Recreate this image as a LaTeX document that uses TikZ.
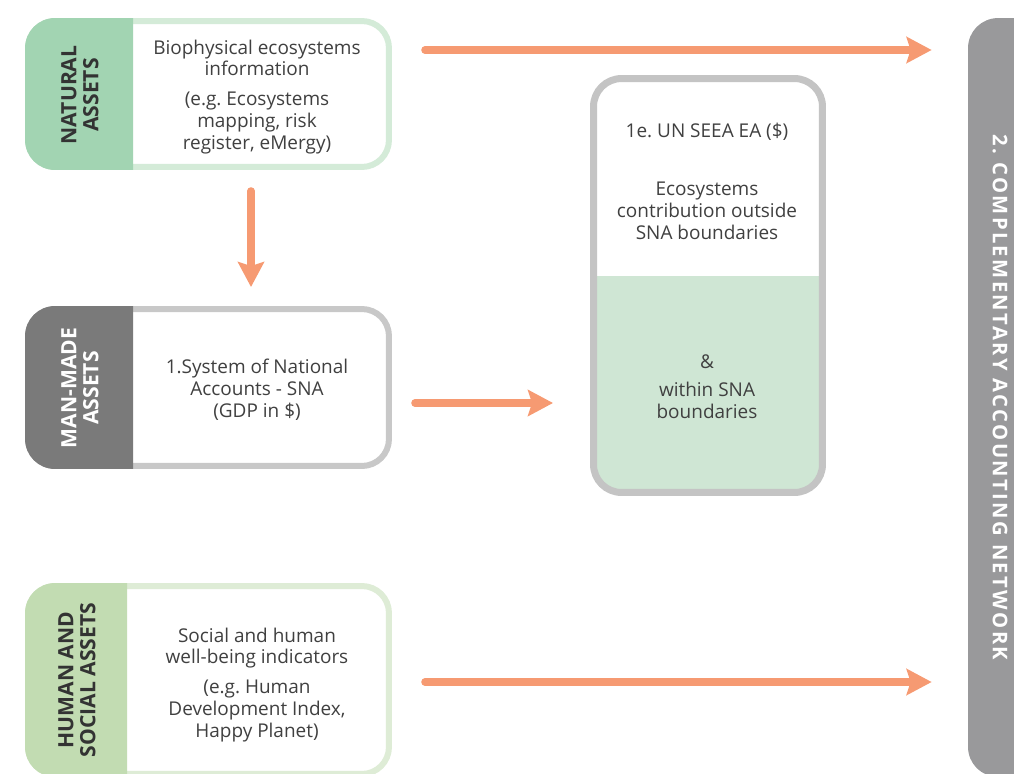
\documentclass[tikz,border=0pt]{standalone}
\usepackage{fontspec}
\setmainfont{Open Sans}
\newfontfamily\trackfont{Open Sans}[LetterSpace=12]
\frenchspacing
\usetikzlibrary{arrows.meta}

\definecolor{natgreen}{RGB}{162,212,178}
\definecolor{natline}{RGB}{212,235,216}
\definecolor{mangray}{RGB}{122,122,122}
\definecolor{manline}{RGB}{200,200,200}
\definecolor{humgreen}{RGB}{194,220,178}
\definecolor{humline}{RGB}{222,236,214}
\definecolor{seealine}{RGB}{196,196,196}
\definecolor{seeagreen}{RGB}{207,230,212}
\definecolor{netgray}{RGB}{153,153,155}
\definecolor{arrowred}{RGB}{246,154,114}
\definecolor{textgray}{RGB}{64,64,64}
\definecolor{labgray}{RGB}{51,51,51}

\tikzset{
  assetbox/.style={draw, line width=0.12cm, rounded corners=0.54cm, fill=white,
    minimum width=7.22cm, inner sep=0pt},
  tablabel/.style={rotate=90, align=center, inner sep=0pt,
    font=\bfseries\fontsize{12}{12.5}\selectfont},
  bodytext/.style={align=center, inner sep=0pt, text=textgray,
    font=\fontsize{10.8}{12.5}\selectfont},
  flow/.style={draw=arrowred, line width=0.15cm, line cap=round,
    -{Stealth[length=0.5cm, width=0.52cm, inset=0.08cm]}}
}

\begin{document}
\begin{tikzpicture}[x=0.02cm, y=-0.02cm]
  \useasboundingbox (0,0) rectangle (1014,774);
  \clip (0,0) rectangle (1014,774);

  % natural assets
  \node[assetbox, draw=natline, minimum height=2.92cm] (nat) at (208.5,94) {};
  \fill[natgreen] ([xshift=2.16cm]nat.north west) [rounded corners=0.6cm]
    -- (nat.north west) -- (nat.south west) [sharp corners]
    -- ([xshift=2.16cm]nat.south west) -- cycle;
  \node[tablabel, text=labgray] (natlab) at (80,95) {NATURAL\\ASSETS};
  \node[bodytext] (nattxt) at (257,97) {Biophysical ecosystems\\information\\[0.16cm]
    (e.g. Ecosystems\\mapping, risk\\register, eMergy)};

  % man-made assets
  \node[assetbox, draw=manline, minimum height=3.14cm] (man) at (208.5,387.5) {};
  \fill[mangray] ([xshift=2.16cm]man.north west) [rounded corners=0.6cm]
    -- (man.north west) -- (man.south west) [sharp corners]
    -- ([xshift=2.16cm]man.south west) -- cycle;
  \node[tablabel, text=white] (manlab) at (80,388) {MAN-MADE\\ASSETS};
  \node[bodytext] (mantxt) at (257,390) {1.System of National\\Accounts - SNA\\(GDP in \$)};

  % human and social assets
  \node[assetbox, draw=humline, minimum height=3.76cm] (hum) at (208.5,680) {};
  \fill[humgreen] ([xshift=2.04cm]hum.north west) [rounded corners=0.6cm]
    -- (hum.north west) -- (hum.south west) [sharp corners]
    -- ([xshift=2.04cm]hum.south west) -- cycle;
  \node[tablabel, text=labgray] (humlab) at (77,680) {HUMAN AND\\SOCIAL ASSETS};
  \node[bodytext] (humtxt) at (257,685) {Social and human\\well-being indicators\\[0.16cm]
    (e.g. Human\\Development Index,\\Happy Planet)};

  % SEEA box
  \node[draw=seealine, line width=0.14cm, rounded corners=0.56cm, fill=white,
    minimum width=4.58cm, minimum height=8.28cm, inner sep=0pt,
    path picture={\fill[seeagreen, sharp corners] (path picture bounding box.south west)
      rectangle ([yshift=0.19cm]path picture bounding box.east);}]
    (seea) at (708,285.5) {};
  \node[bodytext] (seeatitle) at (707,132) {1e. UN SEEA EA (\$)};
  \node[bodytext] (seeaout) at (707,211) {Ecosystems\\contribution outside\\SNA boundaries};
  \node[bodytext] (seeain) at (707,387) {\&\\[0.12cm]within SNA\\boundaries};

  % complementary accounting network
  \node[fill=netgray, rounded corners=0.6cm, minimum width=1.64cm,
    minimum height=15.18cm, inner sep=0pt] (cna) at (1009,397.5) {};
  \node[rotate=-90, inner sep=0pt, text=white,
    font=\trackfont\bfseries\fontsize{11.5}{12}\selectfont] (cnalab) at (1000,397.5)
    {2. COMPLEMENTARY ACCOUNTING NETWORK};

  % arrows
  \draw[flow, shorten <=0.66cm, shorten >=0.72cm] (nat.east |- 0,50) -- (cna.west |- 0,50);
  \draw[flow, shorten <=0.42cm, shorten >=0.38cm] (nat.south -| 251,0) -- (man.north -| 251,0);
  \draw[flow, shorten <=0.46cm, shorten >=0.74cm] (man.east |- 0,403) -- (seea.west |- 0,403);
  \draw[flow, shorten <=0.66cm, shorten >=0.72cm] (hum.east |- 0,682) -- (cna.west |- 0,682);
\end{tikzpicture}
\end{document}
